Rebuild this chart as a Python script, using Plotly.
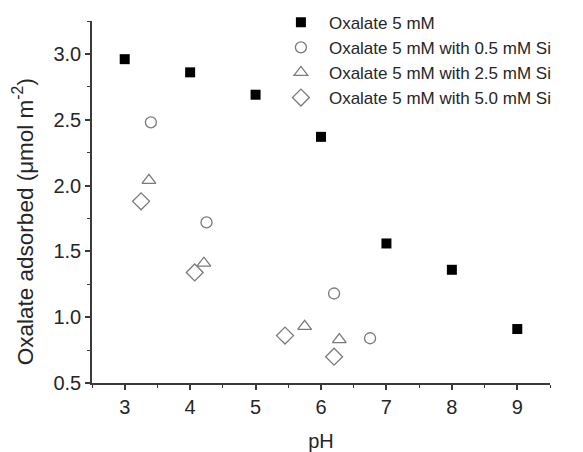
import plotly.graph_objects as go

# Data
ph_oxalate = [3, 4, 5, 6, 7, 8, 9]
ads_oxalate = [2.96, 2.86, 2.69, 2.37, 1.56, 1.36, 0.91]

ph_si05 = [3.40, 4.25, 6.20, 6.75]
ads_si05 = [2.48, 1.72, 1.18, 0.84]

ph_si25 = [3.37, 4.21, 5.75, 6.28]
ads_si25 = [2.04, 1.41, 0.93, 0.83]

ph_si50 = [3.25, 4.07, 5.45, 6.20]
ads_si50 = [1.88, 1.34, 0.86, 0.70]

series_names = [
    "Oxalate 5 mM",
    "Oxalate 5 mM with 0.5 mM Si",
    "Oxalate 5 mM with 2.5 mM Si",
    "Oxalate 5 mM with 5.0 mM Si",
]

x_title = "pH"
y_title = "Oxalate adsorbed (μmol m<sup>-2</sup>)"

FONT = "Liberation Sans, Arial, sans-serif"
TXT = "#262626"
GRAY = "#7a7a7a"
AX = "#3a3a3a"

fig = go.Figure()
fig.add_trace(go.Scatter(
    x=ph_oxalate, y=ads_oxalate, mode="markers", name=series_names[0],
    marker=dict(symbol="square", size=10, color="black", line=dict(width=0)),
))
fig.add_trace(go.Scatter(
    x=ph_si05, y=ads_si05, mode="markers", name=series_names[1],
    marker=dict(symbol="circle-open", size=11, color=GRAY, line=dict(width=1.3, color=GRAY)),
))
fig.add_trace(go.Scatter(
    x=ph_si25, y=ads_si25, mode="markers", name=series_names[2],
    marker=dict(symbol="triangle-up-open", size=12, color=GRAY, line=dict(width=1.3, color=GRAY)),
))
fig.add_trace(go.Scatter(
    x=ph_si50, y=ads_si50, mode="markers", name=series_names[3],
    marker=dict(symbol="diamond-open", size=13, color=GRAY, line=dict(width=1.3, color=GRAY)),
))

# the page body adds an 8 px offset, so the figure is slightly smaller
fig.update_layout(
    width=575, height=444,
    margin=dict(l=84, r=33, t=13, b=69, autoexpand=False),
    paper_bgcolor="white", plot_bgcolor="white",
    font=dict(family=FONT, size=18, color=TXT),
    showlegend=True,
    legend=dict(
        x=0.395, y=1.045, xref="paper", yref="paper", xanchor="left", yanchor="top",
        font=dict(family=FONT, size=17, color=TXT),
        itemwidth=46, tracegroupgap=0, bgcolor="rgba(0,0,0,0)",
    ),
    annotations=[dict(
        text=y_title, textangle=-90, showarrow=False,
        xref="paper", yref="paper", x=-0.15, y=0.445,
        xanchor="center", yanchor="middle",
        font=dict(family=FONT, size=22.5, color=TXT),
    )],
)

fig.update_xaxes(
    range=[2.5, 9.5], tick0=3, dtick=1,
    showline=True, linecolor=AX, linewidth=1.5, mirror=False,
    ticks="outside", ticklen=5, tickwidth=1.5, tickcolor=AX,
    minor=dict(ticks="outside", ticklen=3, tickwidth=1.2, tickcolor=AX, dtick=0.5, tick0=2.5, showgrid=False),
    showgrid=False, zeroline=False,
    tickfont=dict(family=FONT, size=20, color=TXT),
    title=dict(text=x_title, font=dict(family=FONT, size=20, color=TXT), standoff=17),
)
fig.update_yaxes(
    range=[0.5, 3.25], tick0=0.5, dtick=0.5, tickformat=".1f",
    showline=True, linecolor=AX, linewidth=1.5, mirror=False,
    ticks="outside", ticklen=5, tickwidth=1.5, tickcolor=AX,
    minor=dict(ticks="outside", ticklen=3, tickwidth=1.2, tickcolor=AX, dtick=0.25, tick0=0.5, showgrid=False),
    showgrid=False, zeroline=False,
    tickfont=dict(family=FONT, size=20, color=TXT),
)

fig.write_html("out.html")
